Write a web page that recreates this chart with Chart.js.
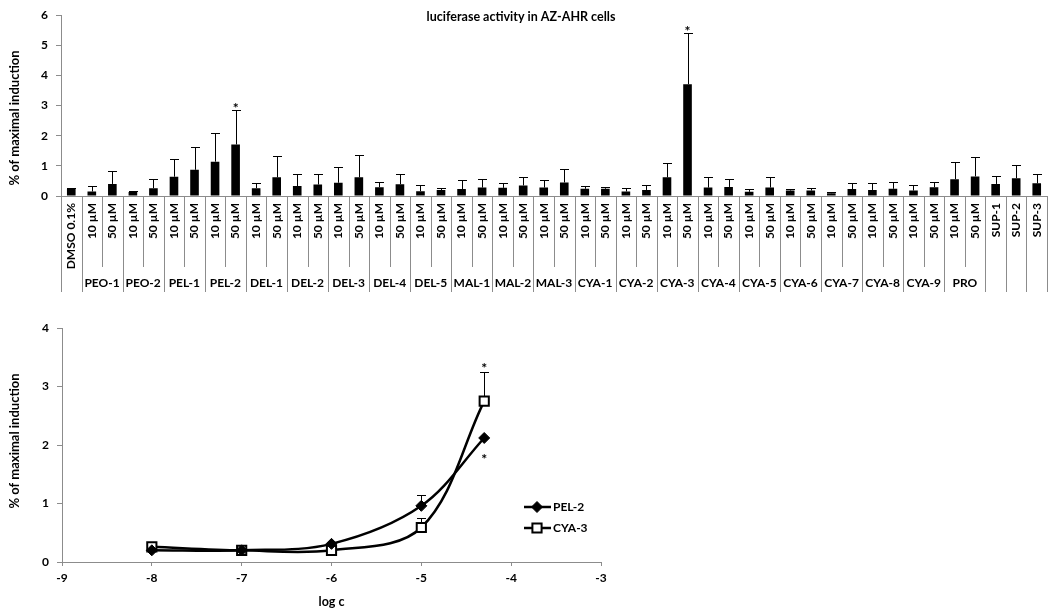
<!DOCTYPE html>
<html>
<head>
<meta charset="utf-8">
<script src="https://cdn.jsdelivr.net/npm/chart.js@4.4.1/dist/chart.umd.min.js"></script>
<style>
body { margin: 0; background: #fff; }
#wrap { position: relative; width: 1050px; height: 614px; }
canvas { position: absolute; left: 0; }
#topChart { top: 0; }
#bottomChart { top: 300px; }
</style>
</head>
<body>
<div id="wrap">
	<canvas id="topChart" width="1050" height="300"></canvas>
	<canvas id="bottomChart" width="1050" height="314"></canvas>
</div>
<script>
const FONT = "Lato, 'Open Sans', sans-serif";
const AXIS_GREY = "#8c8c8c";

// --- upper chart: luciferase activity, one bar per treatment ---
const sampleNames = ['PEO-1', 'PEO-2', 'PEL-1', 'PEL-2', 'DEL-1', 'DEL-2', 'DEL-3', 'DEL-4', 'DEL-5',
	'MAL-1', 'MAL-2', 'MAL-3', 'CYA-1', 'CYA-2', 'CYA-3', 'CYA-4', 'CYA-5', 'CYA-6', 'CYA-7', 'CYA-8', 'CYA-9', 'PRO'];
const concLevels = ['10 µM', '50 µM'];
const supNames = ['SUP-1', 'SUP-2', 'SUP-3'];

const barMeans = [0.23,
	0.15, 0.40, 0.13, 0.26, 0.64, 0.87, 1.14, 1.71,
	0.26, 0.62, 0.33, 0.38, 0.44, 0.62, 0.29, 0.39, 0.16, 0.20,
	0.23, 0.28, 0.27, 0.35, 0.28, 0.45,
	0.24, 0.24, 0.15, 0.20, 0.62, 3.71, 0.28, 0.30, 0.14, 0.28,
	0.18, 0.18, 0.09, 0.23, 0.20, 0.24, 0.18, 0.29,
	0.56, 0.65,
	0.40, 0.59, 0.42];
const barSd = [0.02,
	0.17, 0.43, 0.05, 0.32, 0.59, 0.74, 0.96, 1.15,
	0.18, 0.72, 0.41, 0.36, 0.53, 0.73, 0.19, 0.33, 0.22, 0.05,
	0.29, 0.27, 0.16, 0.28, 0.24, 0.46,
	0.10, 0.06, 0.11, 0.16, 0.46, 1.71, 0.35, 0.27, 0.09, 0.35,
	0.05, 0.07, 0.04, 0.20, 0.23, 0.24, 0.18, 0.19,
	0.58, 0.64,
	0.25, 0.44, 0.30];
const barStars = ['PEL-2 50 µM', 'CYA-3 50 µM'];

// --- lower chart: concentration response ---
const logConc = [-8, -7, -6, -5, -4.3];
const pel2Mean = [0.20, 0.20, 0.31, 0.96, 2.12];
const pel2Sd = [0.02, 0.02, 0.03, 0.18, 0];
const cya3Mean = [0.26, 0.20, 0.20, 0.59, 2.75];
const cya3Sd = [0.08, 0.02, 0.02, 0.16, 0.50];

// category list with its group row
const barLabels = ['DMSO 0.1%'];
const barGroups = [''];
sampleNames.forEach(n => concLevels.forEach(c => { barLabels.push(c); barGroups.push(n); }));
supNames.forEach(n => { barLabels.push(n); barGroups.push(''); });
const starIdx = barStars.map(s => {
	const parts = s.split(' ');
	const g = parts[0], c = parts.slice(1).join(' ');
	return barLabels.findIndex((l, i) => l == c && barGroups[i] == g);
});

function boldFont(size) {
	return "bold " + size + "px " + FONT;
}

function drawErrorBars(chart, dsIndex, sd, capHalf) {
	const meta = chart.getDatasetMeta(dsIndex);
	const yScale = chart.scales.y;
	const data = chart.data.datasets[dsIndex].data;
	const ctx = chart.ctx;
	ctx.save();
	ctx.strokeStyle = "#000";
	ctx.lineWidth = 1;
	meta.data.forEach((el, i) => {
		if (!sd[i]) return;
		const v = typeof data[i] == "object" ? data[i].y : data[i];
		const x = Math.round(el.x) + 0.5;
		const yTop = Math.round(yScale.getPixelForValue(v + sd[i])) + 0.5;
		ctx.beginPath();
		ctx.moveTo(x, el.y);
		ctx.lineTo(x, yTop);
		ctx.moveTo(x - capHalf, yTop);
		ctx.lineTo(x + capHalf, yTop);
		ctx.stroke();
	});
	ctx.restore();
}

const topDecor = {
	id: "topDecor",
	afterDatasetsDraw(chart) {
		drawErrorBars(chart, 0, barSd, 4.5);
		const ctx = chart.ctx;
		const x = chart.scales.x, y = chart.scales.y;
		ctx.save();
		ctx.fillStyle = "#000";
		ctx.font = boldFont(14);
		ctx.textAlign = "center";
		ctx.textBaseline = "alphabetic";
		starIdx.forEach(i => {
			ctx.fillText("*", x.getPixelForValue(i), y.getPixelForValue(barMeans[i] + barSd[i]) + 3);
		});
		ctx.restore();
	},
	afterDraw(chart) {
		const ctx = chart.ctx;
		const area = chart.chartArea;
		const x = chart.scales.x;
		const n = barLabels.length;
		const step = x.getPixelForValue(1) - x.getPixelForValue(0);
		ctx.save();

		// separators of the two-level category axis
		ctx.strokeStyle = AXIS_GREY;
		ctx.lineWidth = 1;
		for (let i = 0; i <= n; i++) {
			const px = Math.round(x.getPixelForValue(i) - step / 2) + 0.5;
			const inner = i > 0 && i < n && barGroups[i] != "" && barGroups[i] == barGroups[i - 1];
			ctx.beginPath();
			ctx.moveTo(px, area.bottom);
			ctx.lineTo(px, area.bottom + (inner ? 71 : 96));
			ctx.stroke();
		}

		// rotated tick labels
		ctx.fillStyle = "#000";
		ctx.font = boldFont(12);
		ctx.textAlign = "right";
		ctx.textBaseline = "middle";
		for (let i = 0; i < n; i++) {
			ctx.save();
			ctx.translate(x.getPixelForValue(i), area.bottom + 7);
			ctx.rotate(-Math.PI / 2);
			ctx.fillText(barLabels[i], 0, 0);
			ctx.restore();
		}

		// group row
		ctx.textAlign = "center";
		let start = 0;
		for (let i = 1; i <= n; i++) {
			if (i == n || barGroups[i] != barGroups[start]) {
				if (barGroups[start] != "") {
					const cx = (x.getPixelForValue(start) + x.getPixelForValue(i - 1)) / 2;
					ctx.fillText(barGroups[start], cx, area.bottom + 87);
				}
				start = i;
			}
		}

		// title and axis title
		ctx.font = boldFont(12.5);
		ctx.fillText("luciferase activity in AZ-AHR cells", 521, 17);
		ctx.font = boldFont(13);
		ctx.translate(15, 118);
		ctx.rotate(-Math.PI / 2);
		ctx.fillText("% of maximal induction", 0, 0);
		ctx.restore();
	}
};

new Chart(document.getElementById("topChart"), {
	type: "bar",
	data: {
		labels: barLabels,
		datasets: [{
			data: barMeans,
			backgroundColor: "#000",
			barPercentage: 0.42,
			categoryPercentage: 1
		}]
	},
	options: {
		responsive: false,
		animation: false,
		layout: { padding: { left: 0, right: 3, top: 9, bottom: 0 } },
		plugins: { legend: { display: false }, tooltip: { enabled: false } },
		scales: {
			x: {
				grid: { display: false },
				border: { color: AXIS_GREY },
				ticks: { display: false },
				afterFit: s => { s.height = 104; }
			},
			y: {
				min: 0,
				max: 6,
				ticks: { stepSize: 1, color: "#000", font: { family: FONT, size: 12, weight: "bold" }, padding: 8 },
				grid: { drawOnChartArea: false, tickLength: 5, color: AXIS_GREY },
				border: { color: AXIS_GREY },
				afterFit: s => { s.width = 61; }
			}
		}
	},
	plugins: [topDecor]
});

const bottomDecor = {
	id: "bottomDecor",
	beforeDatasetsDraw(chart) {
		drawErrorBars(chart, 0, pel2Sd, 4.5);
		drawErrorBars(chart, 1, cya3Sd, 4.5);
	},
	afterDraw(chart) {
		const ctx = chart.ctx;
		const area = chart.chartArea;
		const x = chart.scales.x, y = chart.scales.y;
		const last = logConc.length - 1;
		ctx.save();
		ctx.fillStyle = "#000";
		ctx.textAlign = "center";

		// significance marks
		ctx.font = boldFont(14);
		ctx.textBaseline = "alphabetic";
		ctx.fillText("*", x.getPixelForValue(logConc[last]), y.getPixelForValue(cya3Mean[last] + cya3Sd[last]) + 1);
		ctx.fillText("*", x.getPixelForValue(logConc[last]), y.getPixelForValue(pel2Mean[last]) + 26);

		// legend
		ctx.textBaseline = "middle";
		ctx.font = boldFont(12);
		ctx.textAlign = "left";
		chart.data.datasets.forEach((ds, i) => {
			const ly = 207 + i * 21;
			ctx.strokeStyle = "#000";
			ctx.lineWidth = ds.borderWidth;
			ctx.beginPath();
			ctx.moveTo(524, ly);
			ctx.lineTo(551, ly);
			ctx.stroke();
			ctx.fillStyle = ds.pointBackgroundColor;
			ctx.lineWidth = ds.pointBorderWidth;
			Chart.helpers.drawPoint(ctx, {
				pointStyle: ds.pointStyle, rotation: 0, radius: ds.pointRadius, borderWidth: ds.pointBorderWidth
			}, 537, ly);
			ctx.fillStyle = "#000";
			ctx.fillText(ds.label, 553, ly);
		});

		// axis titles
		ctx.textAlign = "center";
		ctx.font = boldFont(12.5);
		ctx.fillText("log c", (area.left + area.right) / 2, 302);
		ctx.font = boldFont(13);
		ctx.translate(15, 141);
		ctx.rotate(-Math.PI / 2);
		ctx.fillText("% of maximal induction", 0, 0);
		ctx.restore();
	}
};

new Chart(document.getElementById("bottomChart"), {
	type: "line",
	data: {
		datasets: [{
			label: "PEL-2",
			data: logConc.map((v, i) => ({ x: v, y: pel2Mean[i] })),
			borderColor: "#000",
			borderWidth: 2.5,
			tension: 0.35,
			pointStyle: "rectRot",
			pointRadius: 5.5,
			pointBackgroundColor: "#000",
			pointBorderColor: "#000",
			pointBorderWidth: 1
		}, {
			label: "CYA-3",
			data: logConc.map((v, i) => ({ x: v, y: cya3Mean[i] })),
			borderColor: "#000",
			borderWidth: 2.5,
			tension: 0.35,
			pointStyle: "rect",
			pointRadius: 6.5,
			pointBackgroundColor: "#fff",
			pointBorderColor: "#000",
			pointBorderWidth: 2
		}]
	},
	options: {
		responsive: false,
		animation: false,
		layout: { padding: { left: 0, right: 449, top: 28, bottom: 0 } },
		plugins: { legend: { display: false }, tooltip: { enabled: false } },
		scales: {
			x: {
				type: "linear",
				min: -9,
				max: -3,
				ticks: { stepSize: 1, color: "#000", font: { family: FONT, size: 12, weight: "bold" }, padding: 5 },
				grid: { drawOnChartArea: false, tickLength: 4, color: AXIS_GREY },
				border: { color: AXIS_GREY },
				afterFit: s => { s.height = 52; }
			},
			y: {
				min: 0,
				max: 4,
				ticks: { stepSize: 1, color: "#000", font: { family: FONT, size: 12, weight: "bold" }, padding: 8 },
				grid: { drawOnChartArea: false, tickLength: 5, color: AXIS_GREY },
				border: { color: AXIS_GREY },
				afterFit: s => { s.width = 62; }
			}
		}
	},
	plugins: [bottomDecor]
});
</script>
</body>
</html>
